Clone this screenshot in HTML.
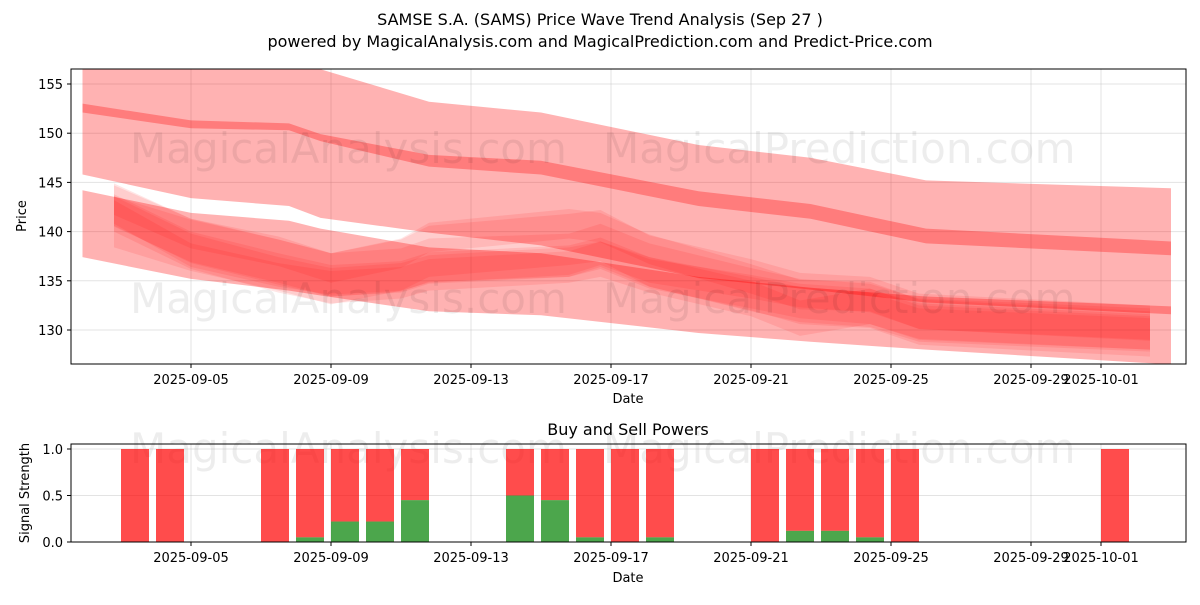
<!DOCTYPE html>
<html><head><meta charset="utf-8"><style>
body{margin:0;background:#fff;font-family:"Liberation Sans","DejaVu Sans",sans-serif;}
svg text{font-family:"DejaVu Sans","Liberation Sans",sans-serif;}
</style></head><body>
<svg id="c" width="1200" height="600" viewBox="0 0 1200 600" xmlns="http://www.w3.org/2000/svg">
<text x="600" y="25" text-anchor="middle" font-size="16">SAMSE S.A. (SAMS) Price Wave Trend Analysis (Sep 27 )</text>
<text x="600" y="47" text-anchor="middle" font-size="16">powered by MagicalAnalysis.com and MagicalPrediction.com and Predict-Price.com</text>
<defs><clipPath id="mc"><rect x="71" y="69" width="1115" height="295"/></clipPath><clipPath id="bc"><rect x="71" y="444" width="1115" height="98"/></clipPath></defs>
<g id="grid1"></g>
<g id="bands" clip-path="url(#mc)"></g>
<g id="wm" fill="#000" fill-opacity="0.07" font-size="42">
<text x="130" y="163">MagicalAnalysis.com</text><text x="603" y="163">MagicalPrediction.com</text>
<text x="130" y="313">MagicalAnalysis.com</text><text x="603" y="313">MagicalPrediction.com</text>
<text x="130" y="463">MagicalAnalysis.com</text><text x="603" y="463">MagicalPrediction.com</text>
</g>
<rect x="71" y="69" width="1115" height="295" fill="none" stroke="#000" stroke-width="1"/>
<g id="ax1"></g>
<text x="628" y="403" text-anchor="middle" font-size="13">Date</text>
<text x="26" y="216" text-anchor="middle" font-size="13" transform="rotate(-90 26 216)">Price</text>
<text x="628" y="435" text-anchor="middle" font-size="16">Buy and Sell Powers</text>
<g id="grid2"></g>
<g id="bars" clip-path="url(#bc)"></g>
<rect x="71" y="444" width="1115" height="98" fill="none" stroke="#000" stroke-width="1"/>
<g id="ax2"></g>
<text x="628" y="582" text-anchor="middle" font-size="13">Date</text>
<text x="29" y="493" text-anchor="middle" font-size="13" transform="rotate(-90 29 493)">Signal Strength</text>
</svg>
<script>
const xTickDays=[5,9,13,17,21,25,29,31];
const xTickLabels=["2025-09-05","2025-09-09","2025-09-13","2025-09-17","2025-09-21","2025-09-25","2025-09-29","2025-10-01"];
const yTicks=[130,135,140,145,150,155];
const bTicks=[0,0.5,1];
const bTickLabels=["0.0","0.5","1.0"];
// wide bands: days, upper, lower
const bandDays=[1.9,5,7.8,8.7,11.8,15,19.5,22.7,26,33];
const bandAUp=[157,156.6,156.5,156.5,153.2,152.1,148.8,147.5,145.2,144.4];
const bandALo=[152.1,150.5,150.3,149.2,146.6,145.8,142.6,141.3,138.8,137.6];
const bandBUp=[153.0,151.3,151.0,149.9,147.8,147.2,144.1,142.8,140.3,139.0];
const bandBLo=[145.8,143.4,142.6,141.4,139.9,138.6,135.3,134.1,132.8,131.6];
const bandCUp=[144.2,141.9,141.1,140.3,138.4,137.8,135.4,134.3,133.4,132.4];
const bandCLo=[137.4,135.2,134.0,133.5,131.9,131.5,129.7,128.8,128.0,126.5];
// thin wave bands
const waveDays=[2.8,5,7.5,9,11,11.8,15.8,16.7,18.1,21,22.4,24.4,25.8,32.4];
const waves=[
 [142.7,139.1,137.0,135.6,136.1,137.1,137.6,138.6,136.6,134.1,133.0,132.5,131.0,130.0],
 [142.2,138.4,136.2,135.0,135.4,136.3,137.0,137.8,135.8,133.8,132.8,132.2,130.6,129.6],
 [143.2,139.8,138.0,136.3,137.8,139.4,140.8,140.4,138.2,135.2,133.6,133.4,131.6,130.4],
 [141.8,138.0,135.6,134.5,135.0,135.8,136.6,137.2,135.6,133.2,131.2,132.4,130.9,129.8],
 [142.0,137.6,135.6,134.8,135.2,136.0,136.8,137.8,136.0,134.4,133.5,133.0,131.3,130.2],
 [141.0,138.6,136.6,135.2,136.6,138.0,139.2,139.6,137.0,134.6,133.2,132.8,131.1,129.9]
];
const waveHalf=[2.2,1.6,1.5,1.8,1.2,2.6];
// buy/sell
const barDays=[3,4,7,8,9,10,11,14,15,16,17,18,21,22,23,24,25,31];
const buyVals=[0,0,0,0.05,0.22,0.22,0.45,0.5,0.45,0.05,0,0.05,0,0.12,0.12,0.05,0,0];
const sellVals=barDays.map((d,i)=>1-buyVals[i]);

const NS="http://www.w3.org/2000/svg";
const X=d=>191+(d-5)*35;
const Y=v=>330-(v-130)*9.84;
const YB=v=>542-v*93;
function mk(tag,at,parent){const e=document.createElementNS(NS,tag);for(const k in at)e.setAttribute(k,at[k]);document.getElementById(parent).appendChild(e);return e;}

xTickDays.forEach((d,i)=>{
 let g=mk('line',{x1:X(d),x2:X(d),y1:69,y2:364,stroke:'#b0b0b0','stroke-opacity':0.35},'grid1');
 
 
 let t=mk('line',{x1:X(d),x2:X(d),y1:364,y2:368,stroke:'#000'},'ax1');
 
 
 let l=mk('text',{x:X(d),y:384,'text-anchor':'middle','font-size':13},'ax1');l.textContent=xTickLabels[i];
 
 
 let g2=mk('line',{x1:X(d),x2:X(d),y1:444,y2:542,stroke:'#b0b0b0','stroke-opacity':0.35},'grid2');
 
 
 let t2=mk('line',{x1:X(d),x2:X(d),y1:542,y2:546,stroke:'#000'},'ax2');
 
 
 let l2=mk('text',{x:X(d),y:562,'text-anchor':'middle','font-size':13},'ax2');l2.textContent=xTickLabels[i];
 
 
});
yTicks.forEach(v=>{
 let g=mk('line',{x1:71,x2:1186,y1:Y(v),y2:Y(v),stroke:'#b0b0b0','stroke-opacity':0.35},'grid1');
 
 
 let t=mk('line',{x1:67,x2:71,y1:Y(v),y2:Y(v),stroke:'#000'},'ax1');
 
 
 let l=mk('text',{x:63,y:Y(v)+5,'text-anchor':'end','font-size':13},'ax1');l.textContent=v;
 
 
});
bTicks.forEach((v,i)=>{
 let g=mk('line',{x1:71,x2:1186,y1:YB(v),y2:YB(v),stroke:'#b0b0b0','stroke-opacity':0.35},'grid2');
 
 
 let t=mk('line',{x1:67,x2:71,y1:YB(v),y2:YB(v),stroke:'#000'},'ax2');
 
 
 let l=mk('text',{x:63,y:YB(v)+5,'text-anchor':'end','font-size':13},'ax2');l.textContent=bTickLabels[i];
 
 
});
function poly(days,up,lo,op,name){
 const pts=days.map((d,i)=>X(d)+','+Y(up[i])).concat(days.map((d,i)=>X(d)+','+Y(lo[i])).reverse());
 const p=mk('polygon',{points:pts.join(' '),fill:'#ff0000','fill-opacity':op},'bands');
 
 
}
poly(bandDays,bandAUp,bandALo,0.3,'band-upper');
poly(bandDays,bandBUp,bandBLo,0.3,'band-middle');
poly(bandDays,bandCUp,bandCLo,0.3,'band-lower');
waves.forEach((w,k)=>{
 const h=waveHalf[k];
 poly(waveDays,w.map(v=>v+h),w.map(v=>v-h),0.1,'wave-band');
});
barDays.forEach((d,i)=>{
 const cx=X(d+0.4);
 const r=mk('rect',{x:cx-14,width:28,y:YB(buyVals[i]+sellVals[i]),height:YB(buyVals[i])-YB(buyVals[i]+sellVals[i]),fill:'#ff0000','fill-opacity':0.7},'bars');
 
 
 if(buyVals[i]>0){
  const g=mk('rect',{x:cx-14,width:28,y:YB(buyVals[i]),height:YB(0)-YB(buyVals[i]),fill:'#008000','fill-opacity':0.7},'bars');
  
  
 }
});
</script>
</body></html>
